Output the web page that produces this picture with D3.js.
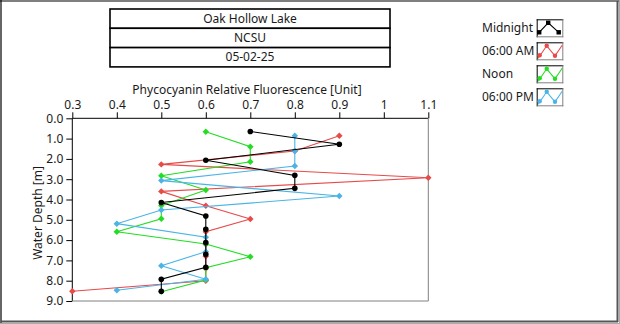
<!DOCTYPE html>
<html>
<head>
<meta charset="utf-8">
<script src="https://cdn.jsdelivr.net/npm/d3@7"></script>
<style>
  html, body { margin: 0; padding: 0; background: #fff; }
  svg { display: block; }
  text { font-family: "Noto Sans", "DejaVu Sans", sans-serif; fill: #1a1a1a; }
</style>
</head>
<body>
<svg id="chart" width="620" height="324"></svg>
<script>
// Header lines
const headerLines = ["Oak Hollow Lake", "NCSU", "05-02-25"];

// Axis ticks
const xTicks = [0.3, 0.4, 0.5, 0.6, 0.7, 0.8, 0.9, 1.0, 1.1];
const xTickLabels = ["0.3", "0.4", "0.5", "0.6", "0.7", "0.8", "0.9", "1", "1.1"];
const yTicks = [0, 1, 2, 3, 4, 5, 6, 7, 8, 9];
const yTickLabels = ["0.0", "1.0", "2.0", "3.0", "4.0", "5.0", "6.0", "7.0", "8.0", "9.0"];

// Profiles: water depth [m] and phycocyanin relative fluorescence
const seriesNames = ["Midnight", "06:00 AM", "Noon", "06:00 PM"];

const midnightDepth = [0.65, 1.28, 2.07, 2.81, 3.45, 4.15, 4.81, 5.47, 6.12, 6.70, 7.34, 7.93, 8.52];
const midnightValue = [0.7, 0.9, 0.6, 0.8, 0.8, 0.5, 0.6, 0.6, 0.6, 0.6, 0.6, 0.5, 0.5];

const amDepth = [0.86, 1.61, 2.27, 2.93, 3.60, 4.31, 4.96, 5.59, 6.20, 6.80, 7.40, 8.00, 8.52];
const amValue = [0.9, 0.8, 0.5, 1.1, 0.5, 0.6, 0.7, 0.6, 0.6, 0.6, 0.6, 0.6, 0.3];

const noonDepth = [0.66, 1.40, 2.14, 2.83, 3.53, 4.30, 4.95, 5.59, 6.19, 6.82, 7.36, 7.97, 8.54];
const noonValue = [0.6, 0.7, 0.7, 0.5, 0.6, 0.5, 0.5, 0.4, 0.6, 0.7, 0.6, 0.6, 0.5];

const pmDepth = [0.86, 1.61, 2.35, 3.07, 3.83, 4.52, 5.19, 5.86, 6.57, 7.26, 7.93, 8.47];
const pmValue = [0.8, 0.8, 0.8, 0.5, 0.9, 0.5, 0.4, 0.6, 0.6, 0.5, 0.6, 0.4];

const seriesColors = ["#000000", "#e84a4a", "#22dd22", "#4ab4e6"];

const series = [
  { name: seriesNames[0], color: seriesColors[0], depth: midnightDepth, value: midnightValue, marker: "circle" },
  { name: seriesNames[1], color: seriesColors[1], depth: amDepth, value: amValue, marker: "diamond" },
  { name: seriesNames[2], color: seriesColors[2], depth: noonDepth, value: noonValue, marker: "diamond" },
  { name: seriesNames[3], color: seriesColors[3], depth: pmDepth, value: pmValue, marker: "diamond" }
];

const svg = d3.select("#chart");
const W = 620, H = 324;

// Panel frame: dark top/left edge, grey bottom/right edge
svg.append("rect").attr("x", 0).attr("y", 0).attr("width", W).attr("height", H).attr("fill", "#fff");
svg.append("line").attr("x1", 0).attr("y1", 1).attr("x2", W).attr("y2", 1).attr("stroke", "#000").attr("stroke-width", 1.2);
svg.append("line").attr("x1", 1).attr("y1", 0).attr("x2", 1).attr("y2", H).attr("stroke", "#000").attr("stroke-width", 1.2);
svg.append("line").attr("x1", 617.5).attr("y1", 1).attr("x2", 617.5).attr("y2", 322).attr("stroke", "#555").attr("stroke-width", 2);
svg.append("line").attr("x1", 1).attr("y1", 321.5).attr("x2", 618).attr("y2", 321.5).attr("stroke", "#555").attr("stroke-width", 2);
svg.append("line").attr("x1", 619.5).attr("y1", 0).attr("x2", 619.5).attr("y2", H).attr("stroke", "#aaa").attr("stroke-width", 1);
svg.append("line").attr("x1", 0).attr("y1", 323.5).attr("x2", W).attr("y2", 323.5).attr("stroke", "#aaa").attr("stroke-width", 1);

// Header table
const head = { x: 110, y: 9, w: 280, rowH: 19.3 };
const headG = svg.append("g");
headerLines.forEach((t, i) => {
  headG.append("rect")
    .attr("x", head.x).attr("y", head.y + i * head.rowH)
    .attr("width", head.w).attr("height", head.rowH)
    .attr("fill", "#fff").attr("stroke", "#000").attr("stroke-width", 1.6);
  headG.append("text")
    .attr("x", head.x + head.w / 2).attr("y", head.y + i * head.rowH + head.rowH / 2 + 4)
    .attr("text-anchor", "middle").attr("font-size", 12).text(t);
});

// Plot area
const plot = { left: 72.3, top: 118.3, right: 428.3, bottom: 301 };
const x = d3.scaleLinear().domain([0.3, 1.1]).range([plot.left, plot.right]);
const y = d3.scaleLinear().domain([0, 9]).range([plot.top, plot.bottom]);

// Axes
const xAxis = d3.axisTop(x).tickValues(xTicks)
  .tickFormat((d, i) => xTickLabels[i]).tickSizeInner(6).tickSizeOuter(0).tickPadding(3);
const yAxis = d3.axisLeft(y).tickValues(yTicks)
  .tickFormat((d, i) => yTickLabels[i]).tickSizeInner(6).tickSizeOuter(0).tickPadding(3);

const gx = svg.append("g").attr("transform", `translate(0,${plot.top})`).call(xAxis);
const gy = svg.append("g").attr("transform", `translate(${plot.left},0)`).call(yAxis);
[gx, gy].forEach(g => {
  g.select(".domain").remove();
  g.selectAll(".tick line").attr("stroke", "#000");
  g.selectAll(".tick text").attr("font-family", "\"Noto Sans\", sans-serif").attr("font-size", 12).attr("fill", "#1a1a1a");
});

// Plot frame
svg.append("line").attr("x1", plot.left).attr("y1", plot.top).attr("x2", plot.right).attr("y2", plot.top).attr("stroke", "#000");
svg.append("line").attr("x1", plot.left).attr("y1", plot.top).attr("x2", plot.left).attr("y2", plot.bottom).attr("stroke", "#000");
svg.append("line").attr("x1", plot.right).attr("y1", plot.top).attr("x2", plot.right).attr("y2", plot.bottom).attr("stroke", "#808080");
svg.append("line").attr("x1", plot.left).attr("y1", plot.bottom).attr("x2", plot.right).attr("y2", plot.bottom).attr("stroke", "#808080");

// Axis titles
svg.append("text").attr("x", 247).attr("y", 93.5).attr("text-anchor", "middle")
  .attr("font-size", 12).text("Phycocyanin Relative Fluorescence [Unit]");
svg.append("text").attr("transform", "translate(42,213) rotate(-90)").attr("text-anchor", "middle")
  .attr("font-size", 12).text("Water Depth [m]");

// Profiles (midnight drawn last so it sits on top)
const line = d3.line().x(d => x(d.v)).y(d => y(d.d));
const drawOrder = [1, 2, 3, 0];
const diamond = d3.symbol().type(d3.symbolSquare).size(21);
const dataG = svg.append("g");
drawOrder.forEach(k => {
  const s = series[k];
  const pts = s.depth.map((d, i) => ({ d, v: s.value[i] }));
  dataG.append("path").datum(pts).attr("d", line)
    .attr("fill", "none").attr("stroke", s.color).attr("stroke-width", 1.1);
  const m = dataG.append("g").selectAll("g").data(pts).join("g")
    .attr("transform", p => `translate(${x(p.v)},${y(p.d)})`);
  if (s.marker === "circle") {
    m.append("circle").attr("r", 2.8).attr("fill", s.color);
  } else {
    m.append("path").attr("d", diamond).attr("transform", "rotate(45)").attr("fill", s.color);
  }
});

// Legend
const legend = { textX: 482, boxX: 536.7, boxY: 19.3, boxW: 26.6, boxH: 18, step: 23 };
const lg = svg.append("g");
series.forEach((s, i) => {
  const by = legend.boxY + i * legend.step;
  lg.append("text").attr("x", legend.textX).attr("y", by + 13).attr("font-size", 12).text(s.name);
  const bg = lg.append("g").attr("transform", `translate(${legend.boxX},${by})`);
  bg.append("rect").attr("width", legend.boxW).attr("height", legend.boxH).attr("fill", "#fff");
  bg.append("line").attr("x1", 0).attr("y1", 0.5).attr("x2", legend.boxW).attr("y2", 0.5).attr("stroke", "#000");
  bg.append("line").attr("x1", 0.5).attr("y1", 0).attr("x2", 0.5).attr("y2", legend.boxH).attr("stroke", "#000");
  bg.append("line").attr("x1", legend.boxW - 0.5).attr("y1", 0).attr("x2", legend.boxW - 0.5).attr("y2", legend.boxH).attr("stroke", "#808080");
  bg.append("line").attr("x1", 0).attr("y1", legend.boxH - 0.5).attr("x2", legend.boxW).attr("y2", legend.boxH - 0.5).attr("stroke", "#808080");
  if (s.marker === "circle") {
    const p = [[2.5, 13], [11.5, 3.5], [22, 13]];
    bg.append("path").attr("d", d3.line()(p)).attr("fill", "none").attr("stroke", s.color).attr("stroke-width", 1.1);
    p.forEach(q => bg.append("rect").attr("x", q[0] - 2.2).attr("y", q[1] - 2.2).attr("width", 4.4).attr("height", 4.4).attr("fill", s.color));
  } else {
    const p = [[1.5, 16], [10, 3.5], [18.3, 13.5], [25.5, 3]];
    bg.append("path").attr("d", d3.line()(p)).attr("fill", "none").attr("stroke", s.color).attr("stroke-width", 1.1);
    [[3, 13], [10, 3.5], [18.3, 13.5]].forEach(q => bg.append("circle").attr("cx", q[0]).attr("cy", q[1]).attr("r", 2.2).attr("fill", s.color));
  }
});
</script>
</body>
</html>
